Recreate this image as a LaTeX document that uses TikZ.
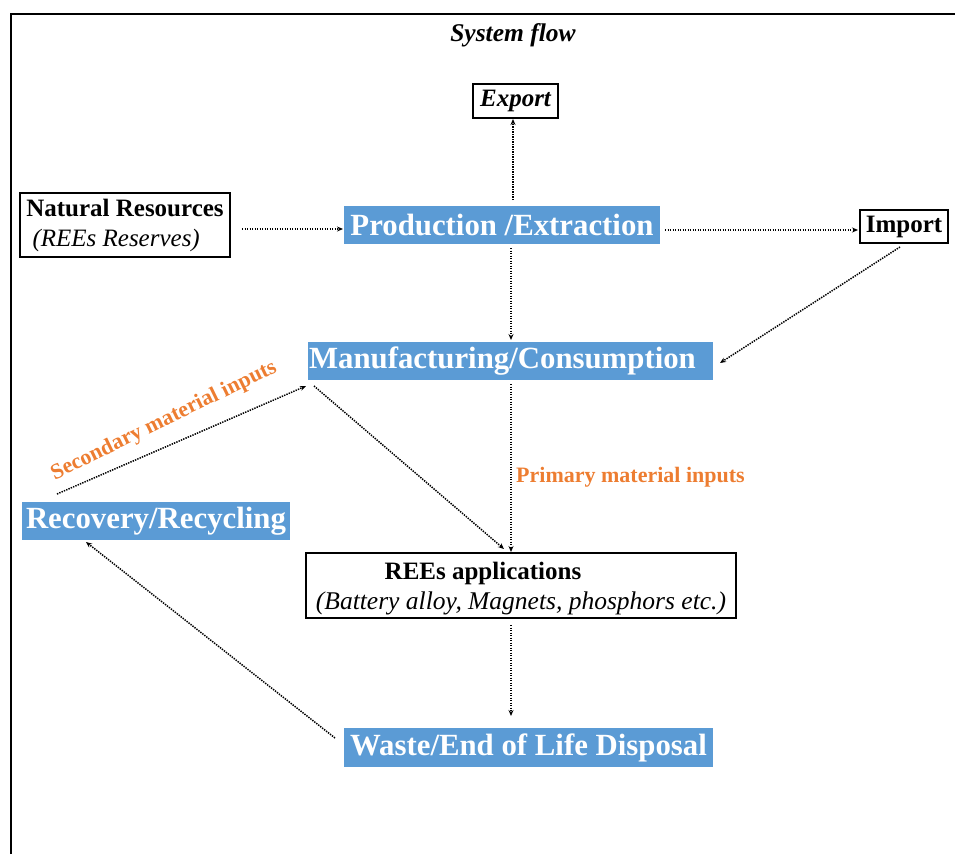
\documentclass[tikz,border=0pt]{standalone}
\usepackage{fontspec}
\setmainfont{Liberation Serif}
\usetikzlibrary{arrows.meta}
\definecolor{flowblue}{HTML}{5B9BD5}
\definecolor{flowor}{HTML}{ED7D31}
\tikzset{
  bluebox/.style={fill=flowblue, text=white, inner sep=0pt, font=\fontsize{30.8}{34}\selectfont\bfseries},
  plainbox/.style={draw, line width=1.6pt, inner sep=0pt, font=\fontsize{25}{29}\selectfont},
  flow/.style={line width=1.5pt, dash pattern=on 1.4pt off 1.1pt, -{Stealth[length=6pt,width=5pt]}},
  flowlabel/.style={text=flowor, font=\fontsize{22}{26}\selectfont\bfseries, inner sep=0pt}
}
\begin{document}
\begin{tikzpicture}[x=1pt,y=-1pt]
\useasboundingbox (0,0) rectangle (955,854);
% frame
\draw[line width=1.8pt] (11,854) -- (11,14) -- (955,14);
% title
\node[font=\fontsize{25.5}{29}\selectfont\bfseries\itshape] (title) at (513,35) {System flow};
% nodes
\node[plainbox, minimum width=85, minimum height=34, font=\fontsize{25}{29}\selectfont\bfseries\itshape] (export) at (515.5,101) {Export};
\node[plainbox, minimum width=210, minimum height=64, align=left] (nat) at (125,225)
  {\textbf{Natural Resources}\\[1pt]\ \textit{(REEs Reserves)}};
\node[bluebox, minimum width=316, minimum height=38] (prod) at (502,225) {Production /Extraction};
\node[plainbox, minimum width=88, minimum height=33, font=\fontsize{25}{29}\selectfont\bfseries] (import) at (904,226.5) {Import};
\node[bluebox, minimum width=405, minimum height=38] (manu) at (510.5,361) {Manufacturing/Consumption\hspace*{16pt}};
\node[bluebox, minimum width=268, minimum height=38] (recov) at (156,521) {Recovery/Recycling};
\node[plainbox, minimum width=430, minimum height=65] (apps) at (521,585.5) {};
\node[font=\fontsize{25}{29}\selectfont\bfseries, inner sep=0pt] (appsA) at (483,573) {REEs applications};
\node[font=\fontsize{25.5}{29}\selectfont\itshape, inner sep=0pt] (appsB) at (521,603) {(Battery alloy, Magnets, phosphors etc.)};
\node[bluebox, minimum width=369, minimum height=39] (waste) at (528.5,747.5) {Waste/End of Life Disposal};
% connector end points
\coordinate (p1) at (513,200);
\coordinate (p2) at (513,119);
\coordinate (p3) at (242,229);
\coordinate (p4) at (343,229);
\coordinate (p5) at (665,230);
\coordinate (p6) at (858,230);
\coordinate (p7) at (511,248);
\coordinate (p8) at (511,340);
\coordinate (p9) at (900,247);
\coordinate (p10) at (720,363);
\coordinate (p11) at (511,384);
\coordinate (p12) at (511,552);
\coordinate (p13) at (314,386);
\coordinate (p14) at (504,549);
\coordinate (p15) at (57,494);
\coordinate (p16) at (306,386);
\coordinate (p17) at (335,738);
\coordinate (p18) at (86,542);
\coordinate (p19) at (511,625);
\coordinate (p20) at (511,716);
% connectors
\draw[flow] (p1) -- (p2);
\draw[flow] (p3) -- (p4);
\draw[flow] (p5) -- (p6);
\draw[flow] (p7) -- (p8);
\draw[flow] (p9) -- (p10);
\draw[flow] (p11) -- (p12);
\draw[flow] (p13) -- (p14);
\draw[flow] (p15) -- (p16);
\draw[flow] (p17) -- (p18);
\draw[flow] (p19) -- (p20);
% labels
\node[flowlabel, anchor=west] (prim) at (516,477) {Primary material inputs};
\node[flowlabel, rotate=26] (sec) at (164,421) {Secondary material inputs};
\end{tikzpicture}
\end{document}
